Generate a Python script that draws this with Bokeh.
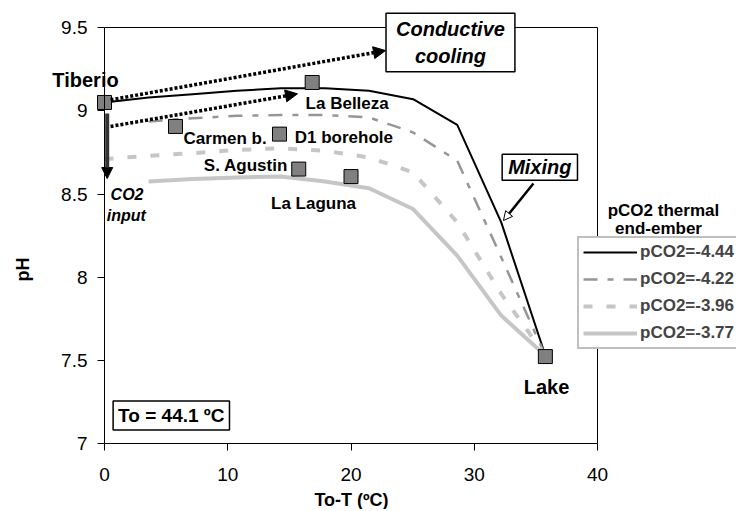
import numpy as np
from bokeh.plotting import figure
from bokeh.models import (Label, Arrow, NormalHead, Legend, LegendItem, LinearAxis,
                          NumeralTickFormatter, FixedTicker, Range1d)
from bokeh.embed import file_html
from bokeh.resources import INLINE

nan = float("nan")

# ---- data ----
x_ticks = [0, 10, 20, 30, 40]
y_ticks = [7, 7.5, 8, 8.5, 9, 9.5]

T_model = [0, 3.58, 7.15, 10.73, 14.31, 17.88, 21.46, 25.04, 28.62, 32.19, 35.77]
ph_444 = [9.05, 9.08, 9.10, 9.12, 9.135, 9.135, 9.12, 9.07, 8.915, 8.33, 7.53]
ph_422 = [nan, 8.935, 8.955, 8.97, 8.975, 8.975, 8.96, 8.87, 8.70, 8.12, 7.53]
ph_396 = [8.71, 8.73, 8.745, 8.765, 8.775, 8.76, 8.72, 8.63, 8.33, 7.90, 7.53]
ph_377 = [nan, 8.575, 8.59, 8.60, 8.605, 8.575, 8.535, 8.41, 8.13, 7.77, 7.53]

series_names = ["pCO2=-4.44", "pCO2=-4.22", "pCO2=-3.96", "pCO2=-3.77"]

samples = ["Tiberio", "Carmen b.", "D1 borehole", "S. Agustin", "La Belleza", "La Laguna", "Lake"]
sample_T = [0, 5.76, 14.2, 15.76, 16.85, 20.0, 35.77]
sample_pH = [9.05, 8.906, 8.86, 8.65, 9.17, 8.605, 7.524]

FONT = "Liberation Sans"

# The frame covers the whole canvas; the chart's axes sit inside it at fixed locations,
# so that texts placed around the plot box are not clipped.
W, H = 736, 509
px_per_x = 12.325          # pixels per ºC
px_per_y = 166.5           # pixels per pH unit
x0_px, y7_px = 104, 443.3  # where x=0 and pH=7 fall on the canvas
x_lo = -x0_px / px_per_x
x_hi = (W - x0_px) / px_per_x
y_hi = y_ticks[0] + y7_px / px_per_y
y_lo = y_ticks[0] - (H - y7_px) / px_per_y

p = figure(frame_width=W, frame_height=H,
           x_range=Range1d(x_lo, x_hi), y_range=Range1d(y_lo, y_hi),
           x_axis_location=None, y_axis_location=None,
           output_backend="svg", toolbar_location=None,
           min_border=0, background_fill_color="white", border_fill_color="white")
p.outline_line_color = None
p.grid.visible = False

def style_axis(ax):
    ax.axis_line_color = "black"
    ax.axis_line_width = 1
    ax.major_tick_line_color = "black"
    ax.major_tick_out = 7
    ax.major_tick_in = 0
    ax.minor_tick_line_color = None
    ax.major_label_text_font = FONT
    ax.major_label_text_font_size = "19px"
    ax.major_label_text_color = "black"
    ax.formatter = NumeralTickFormatter(format="0.[0]")

xaxis = LinearAxis(fixed_location=y_ticks[0], bounds=(x_ticks[0], x_ticks[-1]),
                   ticker=FixedTicker(ticks=x_ticks))
style_axis(xaxis)
xaxis.major_label_standoff = 17
p.add_layout(xaxis, "below")

yaxis = LinearAxis(fixed_location=x_ticks[0], bounds=(y_ticks[0], y_ticks[-1]),
                   ticker=FixedTicker(ticks=y_ticks))
style_axis(yaxis)
yaxis.major_label_standoff = 10
p.add_layout(yaxis, "left")

# plot-box top and right edges
for loc, side, bnds in [(y_ticks[-1], "above", (x_ticks[0], x_ticks[-1])),
                        (x_ticks[-1], "right", (y_ticks[0], y_ticks[-1]))]:
    ax = LinearAxis(fixed_location=loc, bounds=bnds, ticker=FixedTicker(ticks=[]))
    ax.axis_line_color = "black"
    ax.major_tick_line_color = None
    ax.minor_tick_line_color = None
    ax.major_label_text_alpha = 0
    p.add_layout(ax, side)

# ---- model curves ----
r1 = p.line(T_model, ph_444, line_color="black", line_width=2)
r2 = p.line(T_model, ph_422, line_color="#969696", line_width=2.5, line_dash="14 10 6 10")
r3 = p.line(T_model, ph_396, line_color="#c6c6c6", line_width=4, line_dash="9 14")
r4 = p.line(T_model, ph_377, line_color="#c6c6c6", line_width=4)

# ---- sample points ----
p.scatter(sample_T, sample_pH, marker="square", size=14,
          fill_color="#808080", line_color="black", line_width=1)

# ---- legend ----
legend = Legend(items=[LegendItem(label=series_names[i], renderers=[r])
                       for i, r in enumerate([r1, r2, r3, r4])],
                location=(577, H - 349))
legend.label_text_font = FONT
legend.label_text_font_style = "bold"
legend.label_text_font_size = "17px"
legend.label_height = 20
legend.glyph_height = 20
legend.glyph_width = 54
legend.label_standoff = 3
legend.spacing = 7
legend.padding = 4
legend.margin = 0
legend.border_line_color = "#808080"
legend.border_line_width = 2
legend.background_fill_color = "white"
legend.background_fill_alpha = 1
p.add_layout(legend)

def lab(text, x, y, size, style="bold", align="center", angle=0, **kw):
    p.add_layout(Label(x=x, y=y, text=text, text_font=FONT, text_font_size=size,
                       text_font_style=style, text_align=align, text_baseline="middle",
                       text_color="black", angle=angle, **kw))

# legend title
lab("pCO2 thermal", 45.35, 8.401, "17px")
lab("end-ember", 44.95, 8.293, "17px")

# axis titles
lab("pH", -6.65, 8.047, "18px", angle=np.pi / 2)
lab("To-T (ºC)", 20.04, 6.665, "18px")

# sample labels
lab("Tiberio", -1.54, 9.182, "20px")
lab("La Belleza", 19.69, 9.042, "17px")
lab("Carmen b.", 9.79, 8.832, "17px")
lab("D1 borehole", 19.42, 8.838, "17px")
lab("S. Agustin", 11.47, 8.671, "17px")
lab("La Laguna", 16.96, 8.445, "17px")
lab("Lake", 35.86, 7.34, "20px")
lab("CO2", 1.83, 8.50, "16px", style="bold italic")
lab("input", 1.77, 8.371, "16px", style="bold italic")

# ---- arrows ----
p.add_layout(Arrow(end=NormalHead(size=12, fill_color="black", line_color="black"),
                   x_start=0.49, y_start=9.066, x_end=22.8, y_end=9.362,
                   line_width=3.5, line_dash="3 2", line_color="black"))
p.add_layout(Arrow(end=NormalHead(size=12, fill_color="black", line_color="black"),
                   x_start=0.49, y_start=8.906, x_end=15.66, y_end=9.102,
                   line_width=3.5, line_dash="3 2", line_color="black"))
p.add_layout(Arrow(end=NormalHead(size=11, fill_color="black", line_color="black"),
                   x_start=0.22, y_start=8.984, x_end=0.22, y_end=8.593,
                   line_width=4, line_color="#333333"))
p.add_layout(Arrow(end=NormalHead(size=9, fill_color="white", line_color="black", line_width=1),
                   x_start=34.8, y_start=8.563, x_end=32.37, y_end=8.341,
                   line_width=2.5, line_color="black"))

# ---- boxed notes ----
box = dict(border_line_color="black", border_line_width=1.5,
           background_fill_color="white", background_fill_alpha=1)
lab("Conductive\ncooling", 28.07, 9.41, "20px", style="bold italic",
    padding=dict(left=10, right=10, top=5, bottom=5), **box)
lab("Mixing", 35.32, 8.661, "20px", style="bold italic",
    padding=dict(left=6, right=6, top=2, bottom=2), **box)
lab("To = 44.1 ºC", 5.42, 7.17, "19px",
    padding=dict(left=5, right=5, top=4, bottom=4), **box)

open("out.html", "w").write(file_html(p, INLINE))
